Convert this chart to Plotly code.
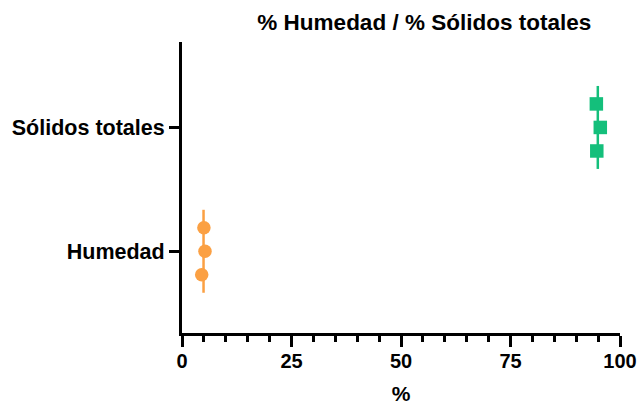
import plotly.graph_objects as go

categories = ["Humedad", "Sólidos totales"]
humedad_values = [5.0, 5.25, 4.5]
solidos_values = [94.6, 95.5, 94.7]
point_offsets = [0.19, 0.0, -0.19]
x_ticks = [0, 25, 50, 75, 100]

colors = ["#FBA043", "#14BF7B"]
symbols = ["circle", "square"]
series = [humedad_values, solidos_values]

FONT = "Liberation Sans, Arial, sans-serif"

fig = go.Figure()
for i, (vals, col, sym) in enumerate(zip(series, colors, symbols)):
    mean = sum(vals) / len(vals)
    fig.add_trace(go.Scatter(
        x=[mean, mean], y=[i - 0.335, i + 0.335], mode="lines",
        line=dict(color=col, width=2.5), showlegend=False, hoverinfo="skip"))
    fig.add_trace(go.Scatter(
        x=vals, y=[i + o for o in point_offsets], mode="markers",
        marker=dict(color=col, symbol=sym, size=13.5, line=dict(width=0)),
        showlegend=False, name=categories[i]))

fig.update_layout(
    width=638, height=405,
    margin=dict(l=182, r=18, t=42, b=72),
    plot_bgcolor="white", paper_bgcolor="white",
    font=dict(family=FONT, color="black"),
    title=dict(text="<b>% Humedad / % Sólidos totales</b>", x=0.665, xanchor="center",
               xref="container", yref="container",
               y=0.945, yanchor="middle", font=dict(size=22.5, color="black", family=FONT)),
    xaxis=dict(range=[0, 100], tickvals=x_ticks, ticktext=[f"<b>{t}</b>" for t in x_ticks],
               automargin=False,
               showgrid=False, zeroline=False, showline=True, linecolor="black", linewidth=3,
               ticks="outside", ticklen=11, tickwidth=2.5, tickcolor="black",
               tickfont=dict(size=20, family=FONT), ticklabelstandoff=-3,
               title=dict(text="<b>%</b>", font=dict(size=21, family=FONT), standoff=16),
               minor=dict(dtick=5, ticks="outside", ticklen=6, tickwidth=2.5, tickcolor="black", showgrid=False)),
    yaxis=dict(range=[-0.66, 1.69], tickvals=[0, 1], ticktext=[f"<b>{c}</b>" for c in categories],
               automargin=False,
               showgrid=False, zeroline=False, showline=True, linecolor="black", linewidth=3,
               ticks="outside", ticklen=10, tickwidth=2.5, tickcolor="black",
               tickfont=dict(size=21.5, family=FONT), ticklabelstandoff=0),
)

fig.write_html("out.html", post_script="document.body.style.margin='0';",
               config={"displayModeBar": False})
